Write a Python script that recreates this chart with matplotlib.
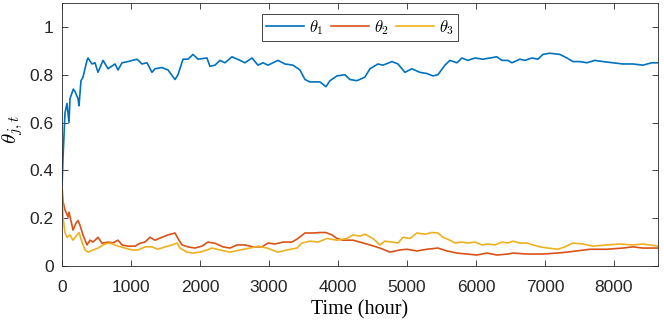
import matplotlib
matplotlib.use("Agg")
import matplotlib.pyplot as plt

plt.rcParams['mathtext.fontset'] = 'cm'
plt.rcParams['font.family'] = ['Liberation Sans', 'DejaVu Sans']

# theta_1 (blue)
t1 = [0, 14, 43, 72, 101, 116, 164, 188, 232, 246, 275, 304, 362, 377, 435, 478, 522, 594, 667,
      768, 812, 870, 957, 1087, 1159, 1232, 1304, 1348, 1449, 1536, 1638, 1681, 1754, 1826, 1899,
      1971, 2101, 2145, 2217, 2290, 2362, 2464, 2580, 2652, 2754, 2841, 2913, 2986, 3130, 3232,
      3348, 3449, 3522, 3594, 3739, 3826, 3884, 3986, 4101, 4174, 4275, 4391, 4464, 4580, 4652,
      4783, 4870, 4971, 5072, 5188, 5290, 5377, 5449, 5551, 5623, 5725, 5797, 5884, 5986, 6101,
      6203, 6304, 6377, 6464, 6522, 6638, 6710, 6812, 6899, 6971, 7072, 7217, 7319, 7406, 7507,
      7609, 7725, 7841, 7986, 8130, 8275, 8420, 8551, 8638]
theta1 = [0.333, 0.45, 0.64, 0.68, 0.60, 0.70, 0.74, 0.73, 0.70, 0.67, 0.775, 0.79, 0.86, 0.87,
          0.845, 0.85, 0.81, 0.86, 0.825, 0.845, 0.82, 0.85, 0.855, 0.865, 0.845, 0.85, 0.81,
          0.825, 0.83, 0.82, 0.78, 0.80, 0.865, 0.865, 0.885, 0.865, 0.87, 0.835, 0.84, 0.86,
          0.85, 0.875, 0.86, 0.85, 0.87, 0.84, 0.85, 0.84, 0.86, 0.845, 0.84, 0.82, 0.78, 0.77,
          0.77, 0.75, 0.775, 0.795, 0.80, 0.78, 0.775, 0.79, 0.825, 0.845, 0.84, 0.855, 0.845,
          0.81, 0.825, 0.81, 0.805, 0.795, 0.80, 0.84, 0.86, 0.85, 0.87, 0.86, 0.87, 0.865, 0.87,
          0.875, 0.86, 0.86, 0.85, 0.865, 0.86, 0.87, 0.865, 0.885, 0.89, 0.885, 0.87, 0.855,
          0.855, 0.85, 0.86, 0.855, 0.85, 0.845, 0.845, 0.84, 0.85, 0.85]

# theta_2 (red)
t2 = [0, 14, 43, 87, 101, 145, 159, 203, 232, 261, 304, 362, 406, 449, 522, 580, 667, 739, 812,
      870, 957, 1058, 1130, 1203, 1275, 1348, 1449, 1536, 1638, 1681, 1739, 1826, 1928, 2029,
      2116, 2217, 2333, 2435, 2536, 2652, 2768, 2899, 2986, 3087, 3203, 3333, 3420, 3522, 3638,
      3739, 3826, 3913, 3986, 4072, 4217, 4319, 4464, 4609, 4754, 4899, 5000, 5145, 5290, 5449,
      5580, 5725, 5870, 6015, 6159, 6304, 6464, 6536, 6739, 6971, 7174, 7319, 7464, 7652, 7899,
      8130, 8275, 8420, 8638]
theta2 = [0.333, 0.27, 0.235, 0.205, 0.225, 0.17, 0.15, 0.18, 0.19, 0.17, 0.13, 0.088, 0.108,
          0.10, 0.12, 0.095, 0.10, 0.097, 0.108, 0.088, 0.083, 0.083, 0.095, 0.10, 0.12, 0.108,
          0.12, 0.13, 0.138, 0.115, 0.088, 0.08, 0.075, 0.083, 0.10, 0.095, 0.08, 0.075, 0.088,
          0.088, 0.08, 0.08, 0.096, 0.092, 0.10, 0.10, 0.115, 0.138, 0.138, 0.14, 0.14, 0.13,
          0.115, 0.108, 0.108, 0.10, 0.088, 0.075, 0.058, 0.067, 0.07, 0.063, 0.07, 0.075, 0.063,
          0.054, 0.05, 0.046, 0.054, 0.046, 0.05, 0.054, 0.05, 0.05, 0.054, 0.058, 0.063, 0.07,
          0.07, 0.075, 0.08, 0.075, 0.075]

# theta_3 (yellow)
t3 = [0, 14, 43, 72, 116, 159, 217, 246, 290, 333, 377, 449, 522, 594, 667, 739, 812, 913, 1014,
      1101, 1203, 1304, 1391, 1493, 1594, 1667, 1710, 1812, 1899, 2000, 2101, 2174, 2290, 2435,
      2580, 2725, 2841, 2971, 3130, 3261, 3406, 3478, 3594, 3710, 3841, 3986, 4130, 4217, 4319,
      4391, 4507, 4609, 4681, 4783, 4870, 4942, 5043, 5145, 5261, 5362, 5449, 5522, 5623, 5696,
      5797, 5884, 5986, 6087, 6174, 6275, 6377, 6464, 6536, 6638, 6739, 6826, 6928, 7043, 7188,
      7290, 7406, 7551, 7696, 7899, 8087, 8275, 8420, 8638]
theta3 = [0.333, 0.205, 0.14, 0.12, 0.13, 0.108, 0.13, 0.14, 0.10, 0.067, 0.058, 0.067, 0.075,
          0.088, 0.096, 0.092, 0.083, 0.075, 0.067, 0.067, 0.08, 0.08, 0.07, 0.08, 0.088, 0.096,
          0.075, 0.058, 0.054, 0.058, 0.067, 0.075, 0.067, 0.058, 0.067, 0.075, 0.083, 0.075,
          0.058, 0.067, 0.075, 0.096, 0.104, 0.10, 0.115, 0.108, 0.115, 0.13, 0.125, 0.133,
          0.115, 0.088, 0.104, 0.10, 0.096, 0.12, 0.115, 0.138, 0.133, 0.14, 0.138, 0.12, 0.108,
          0.096, 0.10, 0.096, 0.10, 0.088, 0.092, 0.088, 0.10, 0.096, 0.104, 0.096, 0.096, 0.088,
          0.08, 0.075, 0.07, 0.08, 0.096, 0.092, 0.083, 0.088, 0.092, 0.088, 0.092, 0.083]

xticks = [0, 1000, 2000, 3000, 4000, 5000, 6000, 7000, 8000]
yticks = [0, 0.2, 0.4, 0.6, 0.8, 1.0]
ytick_labels = ['0', '0.2', '0.4', '0.6', '0.8', '1']
labels = [r'$\theta_1$', r'$\theta_2$', r'$\theta_3$']
colors = ['#0072BD', '#D95319', '#EDB120']

fig = plt.figure(figsize=(6.64, 3.23), dpi=100)
ax = fig.add_axes([0.0934, 0.1765, 0.8976, 0.8142])
ax.plot(t1, theta1, color=colors[0], lw=1.2, label=labels[0])
ax.plot(t2, theta2, color=colors[1], lw=1.2, label=labels[1])
ax.plot(t3, theta3, color=colors[2], lw=1.2, label=labels[2])

ax.set_xlim(0, 8640)
ax.set_ylim(0, 1.1)
ax.set_xticks(xticks)
ax.set_yticks(yticks)
ax.set_yticklabels(ytick_labels)
ax.tick_params(direction='in', top=True, right=True, labelsize=12.5, colors='#262626',
               length=4, width=0.6)
ax.tick_params(axis='x', pad=10)
ax.tick_params(axis='y', pad=6)
for s in ax.spines.values():
    s.set_color('#262626')
    s.set_linewidth(0.6)
ax.set_xlabel('Time (hour)', fontsize=14.5, family='Liberation Serif', labelpad=4)
ax.set_ylabel(r'$\theta_{j,t}$', fontsize=15, labelpad=0)
ax.yaxis.set_label_coords(-0.062, 0.52)

leg = ax.legend(loc='upper center', bbox_to_anchor=(0.5, 0.99), ncol=3, fontsize=12,
                handlelength=2.3, columnspacing=0.4, handletextpad=0.3, borderpad=0.25,
                fancybox=False, framealpha=1, edgecolor='#262626')
leg.get_frame().set_linewidth(0.6)

fig.savefig('out.png', dpi=100)
